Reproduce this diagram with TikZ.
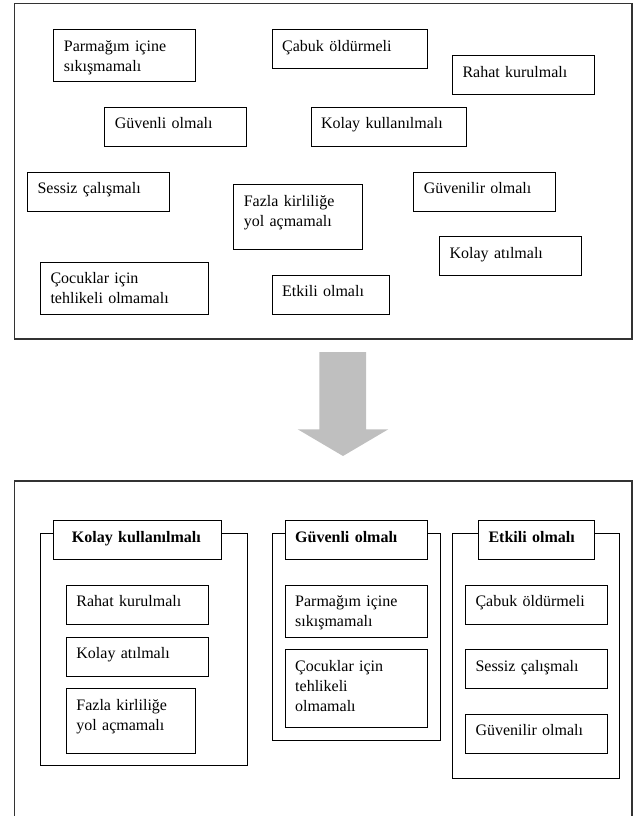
\documentclass[tikz,border=0pt]{standalone}
\usepackage{fontspec}
\setmainfont{Liberation Serif}
\usetikzlibrary{positioning}
\tikzset{
  box/.style={draw=black, line width=0.75pt, anchor=north west, align=left,
              inner xsep=7.5pt, inner ysep=0pt, text height=16pt, text depth=13.25pt},
  two/.style={box, text depth=23pt},
  tall/.style={box, text depth=32.5pt},
  three/.style={box, text depth=42.25pt},
  hdr/.style={box, fill=white, font=\fontsize{12}{15}\selectfont\bfseries},
  grp/.style={draw=black, line width=0.75pt, anchor=north west, inner sep=0pt},
  frame/.style={draw=black!80, line width=1.1pt},
}

\begin{document}
\begin{tikzpicture}[
  x=0.75pt,y=-0.75pt,
  font=\fontsize{12}{15}\selectfont
]
  \useasboundingbox (0,0) rectangle (634,816);

  % unsorted ideas
  \draw[frame] (14.7,3.5) rectangle (632,339);
  \node[two, text width=91.5pt] (parmTop) at (53.4,29.3) {Parmağım içine\\sıkışmamalı};
  \node[box, text width=101.5pt] (cabukTop) at (271.7,29.3) {Çabuk öldürmeli};
  \node[box, text width=91.5pt] (rahatTop) at (452,55.3) {Rahat kurulmalı};
  \node[box, text width=91.5pt] (guvTop) at (104.3,106.7) {Güvenli olmalı};
  \node[box, text width=101.25pt] (kolkTop) at (310.6,106.7) {Kolay kullanılmalı};
  \node[box, text width=91.5pt] (sesTop) at (27.1,171.7) {Sessiz çalışmalı};
  \node[tall, text width=81.75pt] (fazlaTop) at (233.3,184.3) {Fazla kirliliğe\\yol açmamalı};
  \node[box, text width=91.5pt] (guvrTop) at (413.3,171.7) {Güvenilir olmalı};
  \node[box, text width=91.5pt] (kolaTop) at (439.1,236.3) {Kolay atılmalı};
  \node[two, text width=110.85pt] (cocukTop) at (40,261.7) {Çocuklar için\\tehlikeli olmamalı};
  \node[box, text width=72.75pt] (etkTop) at (271.7,275) {Etkili olmalı};

  % big arrow
  \fill[black!25] (319.3,352) -- (366,352) -- (366,429.3) -- (388.3,429.3)
    -- (343,456) -- (297.7,429.3) -- (319.3,429.3) -- cycle;

  % sorted groups
  \draw[frame] (14.7,830) |- (632,481) -- (632,830);

  \node[grp, minimum width=155pt, minimum height=174pt] (gKolay) at (40,533.3) {};
  \node[hdr, text width=110.85pt] (hKolay) at (53.4,520.3) {\hspace*{6pt}Kolay kullanılmalı};
  \node[box, text width=91.5pt] (rahatBot) at (65.9,584.7) {Rahat kurulmalı};
  \node[box, text width=91.5pt] (kolaBot) at (65.9,636.7) {Kolay atılmalı};
  \node[tall, text width=81.75pt] (fazlaBot) at (65.9,688.3) {Fazla kirliliğe\\yol açmamalı};

  \node[grp, minimum width=125.85pt, minimum height=154.8pt] (gGuv) at (271.7,533.3) {};
  \node[hdr, text width=91.5pt] (hGuv) at (284.7,520.3) {Güvenli olmalı};
  \node[two, text width=91.5pt] (parmBot) at (284.7,584.7) {Parmağım içine\\sıkışmamalı};
  \node[three, text width=91.5pt] (cocukBot) at (284.7,649.3) {Çocuklar için\\tehlikeli\\olmamalı};

  \node[grp, minimum width=125.6pt, minimum height=183.75pt] (gEtk) at (452,533.3) {};
  \node[hdr, text width=72.3pt] (hEtk) at (478,520.3) {Etkili olmalı};
  \node[box, text width=91.5pt] (cabukBot) at (465,584.7) {Çabuk öldürmeli};
  \node[box, text width=91.5pt] (sesBot) at (465,649.3) {Sessiz çalışmalı};
  \node[box, text width=91.5pt] (guvrBot) at (465,714) {Güvenilir olmalı};
\end{tikzpicture}
\end{document}
